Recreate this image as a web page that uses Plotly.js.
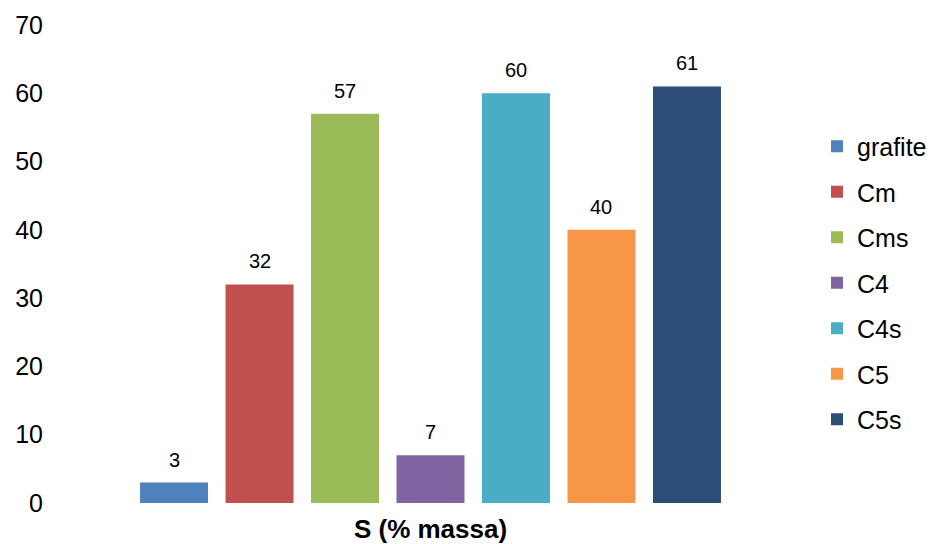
<!DOCTYPE html>
<html>
<head>
<meta charset="utf-8">
<script src="https://cdn.plot.ly/plotly-3.0.1.min.js"></script>
<style>
  html, body { margin: 0; padding: 0; background: #fff; }
  #chart { width: 932px; height: 544px; }
</style>
</head>
<body>
<div id="chart"></div>
<script>
// Sulphur content (% mass) for each carbon sample
const category = ['S (% massa)'];
const seriesNames = ['grafite', 'Cm', 'Cms', 'C4', 'C4s', 'C5', 'C5s'];
const seriesValues = [3, 32, 57, 7, 60, 40, 61];
const seriesColors = ['#4F81BD', '#C0504D', '#9BBB59', '#8064A2', '#4BACC6', '#F79646', '#2C4D75'];
const yTicks = [0, 10, 20, 30, 40, 50, 60, 70];

const FONT = 'Liberation Sans, Arial, sans-serif';
const BARGAP = 0.17;
const BARGROUPGAP = 0.205;

const traces = seriesNames.map((name, i) => ({
  type: 'bar',
  name: name,
  x: category,
  y: [seriesValues[i]],
  marker: { color: seriesColors[i] },
  legendgroup: name,
  hoverinfo: 'name+y'
}));

// value labels placed above each bar, on the category axis coordinate
const n = seriesNames.length;
const groupWidth = 1 - BARGAP;
const slot = groupWidth / n;
const annotations = seriesValues.map((v, i) => ({
  xref: 'x', yref: 'y',
  x: -groupWidth / 2 + slot * (i + 0.5),
  y: v,
  text: String(v),
  showarrow: false,
  yanchor: 'middle',
  yshift: 23,
  font: { family: FONT, size: 20, color: '#000' }
}));

const layout = {
  width: 932,
  height: 544,
  margin: { l: 70, r: 141, t: 25, b: 41 },
  paper_bgcolor: '#fff',
  plot_bgcolor: '#fff',
  font: { family: FONT, color: '#000' },
  barmode: 'group',
  bargap: BARGAP,
  bargroupgap: BARGROUPGAP,
  showlegend: true,
  legend: {
    xref: 'container', yref: 'container',
    x: 817 / 932, xanchor: 'left',
    y: 1 - 283 / 544, yanchor: 'middle',
    maxheight: 540,
    font: { family: FONT, size: 25, color: '#000' },
    tracegroupgap: 10,
    bgcolor: 'rgba(0,0,0,0)'
  },
  xaxis: {
    type: 'category',
    range: [-0.5, 0.5],
    showticklabels: false,
    showline: false,
    showgrid: false,
    zeroline: false,
    ticks: '',
    automargin: false,
    title: {
      text: '<b>S (% massa)</b>',
      font: { family: FONT, size: 26, color: '#000' },
      standoff: 18
    }
  },
  yaxis: {
    range: [0, 70],
    tickvals: yTicks,
    ticktext: yTicks.map(String),
    showline: false,
    showgrid: false,
    zeroline: false,
    ticks: '',
    automargin: false,
    ticklabelstandoff: 26,
    tickfont: { family: FONT, size: 25, color: '#000' }
  },
  annotations: annotations
};

Plotly.newPlot('chart', traces, layout, { displayModeBar: false, staticPlot: true });
</script>
</body>
</html>
